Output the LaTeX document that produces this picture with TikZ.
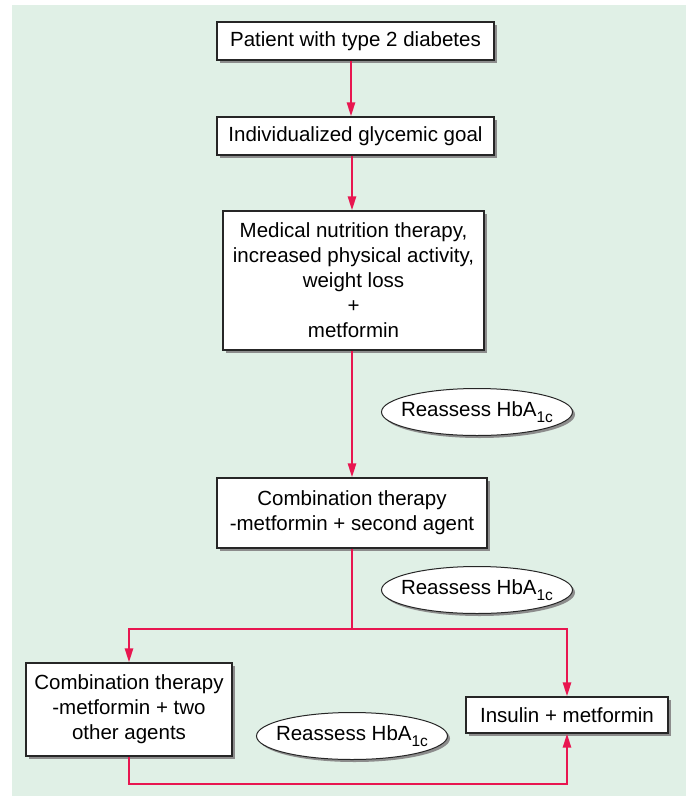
\documentclass[tikz,border=0pt]{standalone}
\usepackage{fontspec}
\setmainfont{Liberation Sans}
\usetikzlibrary{arrows.meta,shadows,shapes.geometric}
\definecolor{panel}{RGB}{224,240,230}
\definecolor{flow}{RGB}{232,22,80}
\definecolor{shade}{RGB}{140,140,140}
\newcommand{\hba}{\makebox[0pt]{Reassess HbA\raisebox{-0.3em}{\fontsize{15.5}{15.5}\selectfont 1c}}}
\begin{document}
\begin{tikzpicture}[x=1pt,y=-1pt,
  font=\fontsize{20.5}{25}\selectfont,
  boxnode/.style={draw=black!85,line width=1.1pt,fill=white,align=center,inner sep=0pt,
    drop shadow={shadow xshift=3pt,shadow yshift=-3pt,opacity=1,fill=shade}},
  ellnode/.style={ellipse,draw=black!85,line width=1pt,fill=white,inner sep=0pt,
    minimum width=191pt,minimum height=47pt,
    drop shadow={shadow xshift=2.5pt,shadow yshift=-2.5pt,opacity=1,fill=shade}},
  arr/.style={draw=flow,line width=2.4pt,-{Triangle[length=14pt,width=8pt]}},
  ln/.style={draw=flow,line width=2.4pt}]
\useasboundingbox (0,0) rectangle (686,796);
\fill[panel] (12,5) rectangle (686,796);

\node[boxnode,minimum width=277pt,minimum height=38pt] (b1) at (355.5,41) {Patient with type 2 diabetes};
\node[boxnode,minimum width=277pt,minimum height=38pt] (b2) at (355.5,136) {Individualized glycemic goal};
\node[boxnode,minimum width=261pt,minimum height=139pt] (b3) at (353.5,280.5)
  {Medical nutrition therapy,\\increased physical activity,\\weight loss\\+\\metformin};
\node[boxnode,minimum width=270pt,minimum height=70pt] (b4) at (352,513)
  {Combination therapy\\-metformin + second agent};
\node[boxnode,minimum width=206pt,minimum height=93pt] (b5) at (129,709.5)
  {Combination therapy\\-metformin + two\\other agents};
\node[boxnode,minimum width=202pt,minimum height=36pt] (b6) at (567,715) {Insulin + metformin};

\node[ellnode] (e1) at (477,412) {\hba};
\node[ellnode] (e2) at (477,590) {\hba};
\node[ellnode] (e3) at (352,736) {\hba};

\coordinate (split) at (352,629);
\coordinate (low) at (0,784);

\draw[arr] (b1.south -| 351,0) -- (b2.north -| 351,0);
\draw[arr] (b2.south -| 352,0) -- (b3.north -| 352,0);
\draw[arr] (b3.south -| b4.north) -- (b4.north);
\draw[ln] (b4.south) -- (split);
\draw[arr] (split) -| (b5.north);
\draw[arr] (split) -| (b6.north);
\draw[arr] (b5.south) |- (b6.south |- low) -- (b6.south);
\end{tikzpicture}
\end{document}
